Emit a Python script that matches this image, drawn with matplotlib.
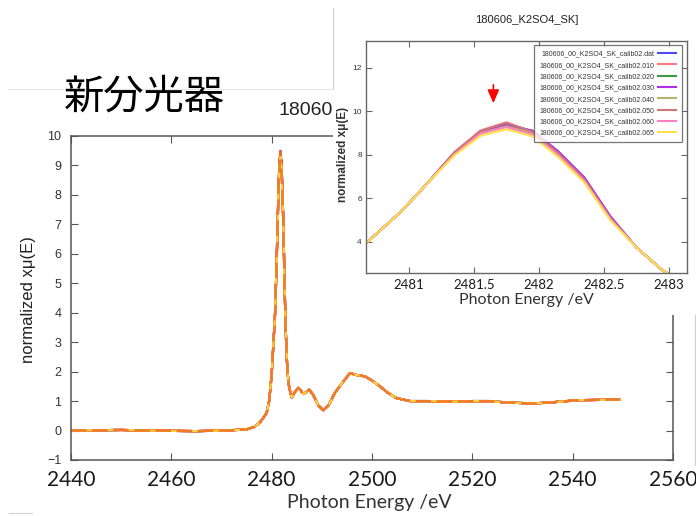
import numpy as np
import matplotlib
matplotlib.use("Agg")
import matplotlib.pyplot as plt
from matplotlib.lines import Line2D

# S K-edge spectrum of K2SO4, shared by all calibration files
energy = [2440, 2445, 2450, 2455, 2460, 2465, 2470, 2473, 2475, 2476.5, 2477.5,
          2478.3, 2479.0, 2479.5, 2480.0, 2480.3, 2480.67, 2480.95, 2481.15,
          2481.35, 2481.55, 2481.75, 2481.95, 2482.15, 2482.35, 2482.55, 2482.75,
          2482.95, 2483.15, 2483.5, 2484.0, 2484.6, 2485.3, 2485.8, 2486.3, 2487.0,
          2487.5, 2488.3, 2489.3, 2490.3, 2491.3, 2492.6, 2494.0, 2495.6, 2497.0,
          2498.6, 2500.0, 2501.6, 2503.0, 2504.9, 2507.6, 2511, 2515.5, 2520,
          2523.3, 2527, 2532.2, 2536, 2541, 2545, 2549.4]
base_mu = [0.0, 0.01, 0.02, 0.0, -0.01, -0.02, 0.0, 0.02, 0.04, 0.12, 0.25,
           0.42, 0.6, 1.0, 1.9, 2.8, 3.94, 5.45, 6.75,
           8.1, 9.08, 9.42, 9.1, 8.15, 6.95, 5.15, 3.75,
           2.7, 2.0, 1.45, 1.12, 1.3, 1.45, 1.36, 1.24, 1.32,
           1.39, 1.2, 0.85, 0.69, 0.85, 1.28, 1.6, 1.95, 1.88,
           1.84, 1.7, 1.5, 1.3, 1.1, 1.0, 1.0, 0.98, 1.0,
           1.0, 0.95, 0.92, 0.96, 1.03, 1.04, 1.05]

# the calibration files only differ around the white line
peak_energy = [2481.35, 2481.55, 2481.75, 2481.95, 2482.15, 2482.35, 2482.55]
peak_dat = [8.10, 9.08, 9.42, 9.10, 8.14, 6.95, 5.16]
peak_010 = [8.12, 9.12, 9.50, 9.06, 8.06, 6.86, 5.08]
peak_020 = [8.08, 9.05, 9.40, 9.05, 8.08, 6.90, 5.12]
peak_030 = [8.10, 9.06, 9.38, 9.12, 8.16, 6.96, 5.18]
peak_040 = [8.05, 9.00, 9.32, 9.00, 8.02, 6.85, 5.08]
peak_050 = [8.12, 9.10, 9.48, 9.07, 8.08, 6.88, 5.10]
peak_060 = [8.02, 8.98, 9.28, 8.95, 7.98, 6.80, 5.05]
peak_065 = [7.98, 8.88, 9.18, 8.86, 7.90, 6.74, 5.00]

labels = ["180606_00_K2SO4_SK_calib02.dat", "180606_00_K2SO4_SK_calib02.010",
          "180606_00_K2SO4_SK_calib02.020", "180606_00_K2SO4_SK_calib02.030",
          "180606_00_K2SO4_SK_calib02.040", "180606_00_K2SO4_SK_calib02.050",
          "180606_00_K2SO4_SK_calib02.060", "180606_00_K2SO4_SK_calib02.065"]
peaks = [peak_dat, peak_010, peak_020, peak_030, peak_040, peak_050, peak_060, peak_065]
inset_colors = ["#4b4bf0", "#ff7b7b", "#3f9a3f", "#b02ee6",
                "#b5b46a", "#d07878", "#ff7fbf", "#ffe04a"]
main_colors = ["#6a1fb8", "#9a2aa8", "#c8285a", "#e03a30",
               "#e35a28", "#e8702a", "#ffd23c", "#f07a28"]

E = np.array(energy)
series = []
for pk in peaks:
    mu = np.array(base_mu, dtype=float)
    for e, v in zip(peak_energy, pk):
        mu[np.isclose(E, e)] = v
    series.append(mu)

W, H = 696, 516
fig = plt.figure(figsize=(W / 100, H / 100), dpi=100)


def fx(px):
    return px / W


def fy(py):
    return 1 - py / H


# --- main spectrum ---
ax = fig.add_axes([fx(71), fy(460), fx(673) - fx(71), fy(136) - fy(460)])
for i, mu in enumerate(series):
    if i == len(series) - 1:
        ax.plot(E, mu, color=main_colors[i], lw=1.6, dashes=(7, 2.5))
    else:
        ax.plot(E, mu, color=main_colors[i], lw=1.6)
ax.set_xlim(2440, 2560)
ax.set_ylim(-1, 10)
ax.set_xticks(np.arange(2440, 2561, 20))
ax.set_yticks(np.arange(-1, 11, 1))
for s in ax.spines.values():
    s.set_color("#555555")
    s.set_linewidth(1.1)
ax.tick_params(direction="in", top=True, right=True, length=5, color="#555555")
ax.tick_params(axis="x", pad=7, labelsize=15, labelcolor="#1a1a1a")
ax.tick_params(axis="y", pad=7, labelsize=9, labelcolor="#333333")
for t in ax.get_xticklabels():
    t.set_fontfamily("Lato")
for t in ax.get_yticklabels():
    t.set_fontfamily("Liberation Sans")
ax.set_xlabel("Photon Energy /eV", fontsize=14, family="Lato", color="#333333")
ax.xaxis.set_label_coords(0.495, -0.105)
ax.set_ylabel("normalized x\u03bc(E)", fontsize=12, family="Liberation Sans",
              color="#222222")
ax.yaxis.set_label_coords(-0.058, 0.494)

# plot title, mostly hidden behind the zoomed view
title = ax.text(0.344, 1.08, "180606_K2SO4_SK]", transform=ax.transAxes,
                fontsize=14, family="Liberation Sans", color="#222222",
                ha="left", va="center")
title.set_clip_box(matplotlib.transforms.Bbox([[0, 0], [333, H]]))
title.set_clip_on(True)

fig.text(fx(64), fy(97), "新分光器", fontsize=29,
         family=["Noto Sans CJK JP", "DejaVu Sans"], ha="left", va="center")

# --- zoomed view of the white line ---
bg = fig.add_axes([fx(333), fy(315), fx(696) - fx(333), fy(0) - fy(315)])
bg.set_facecolor("white")
bg.set_xticks([])
bg.set_yticks([])
for s in bg.spines.values():
    s.set_visible(False)

ins = fig.add_axes([fx(366), fy(273), fx(687) - fx(366), fy(41) - fy(273)])
for mu, c, lab in zip(series, inset_colors, labels):
    ins.plot(E, mu, color=c, lw=1.5, label=lab)
ins.set_xlim(2480.67, 2483.14)
ins.set_ylim(2.57, 13.24)
ins.set_xticks([2481, 2481.5, 2482, 2482.5, 2483])
ins.set_xticklabels(["2481", "2481.5", "2482", "2482.5", "2483"])
ins.set_yticks([4, 6, 8, 10, 12])
for s in ins.spines.values():
    s.set_color("#666666")
    s.set_linewidth(1.0)
ins.tick_params(direction="in", top=True, right=True, length=4, color="#666666")
ins.tick_params(axis="x", pad=4, labelsize=9.5, labelcolor="#1a1a1a")
ins.tick_params(axis="y", pad=3, labelsize=6, labelcolor="#333333")
for t in ins.get_xticklabels():
    t.set_fontfamily("Lato")
for t in ins.get_yticklabels():
    t.set_fontfamily("Liberation Sans")
ins.set_xlabel("Photon Energy /eV", fontsize=11.5, family="Lato", color="#333333",
               labelpad=2)
ins.set_ylabel("normalized x\u03bc(E)", fontsize=8.5, family="Liberation Sans",
               fontweight="bold", color="#333333")
ins.yaxis.set_label_coords(-0.052, 0.51)
ins.set_title("180606_K2SO4_SK]", fontsize=8, family="Liberation Sans",
              color="#222222", pad=13)
ins.annotate("", xy=(2481.65, 10.25), xytext=(2481.65, 11.35),
             arrowprops=dict(arrowstyle="-|>,head_width=0.35,head_length=0.8",
                             color="#ff0000", lw=1.2))
leg = ins.legend(loc="upper right", bbox_to_anchor=(fx(682), fy(45)),
                 bbox_transform=fig.transFigure, borderaxespad=0,
                 markerfirst=False, fancybox=False,
                 handlelength=2.6, labelspacing=0.62, borderpad=0.8,
                 handletextpad=0.6, prop={"family": "Liberation Sans", "size": 5.0})
leg.get_frame().set_edgecolor("#555555")
leg.get_frame().set_linewidth(0.9)
for t in leg.get_texts():
    t.set_color("#333333")

# slide outlines
fig.add_artist(Line2D([fx(8), fx(333)], [fy(89), fy(89)], color="#e4e4e4", lw=0.8))
fig.add_artist(Line2D([fx(333), fx(333)], [fy(8), fy(88)], color="#cccccc", lw=0.8))
fig.add_artist(Line2D([fx(695), fx(695)], [fy(315), fy(465)], color="#cfcfcf", lw=0.8))
fig.add_artist(Line2D([fx(9), fx(32)], [fy(513), fy(513)], color="#d0d0d0", lw=0.8))

fig.savefig("out.png", dpi=100)
